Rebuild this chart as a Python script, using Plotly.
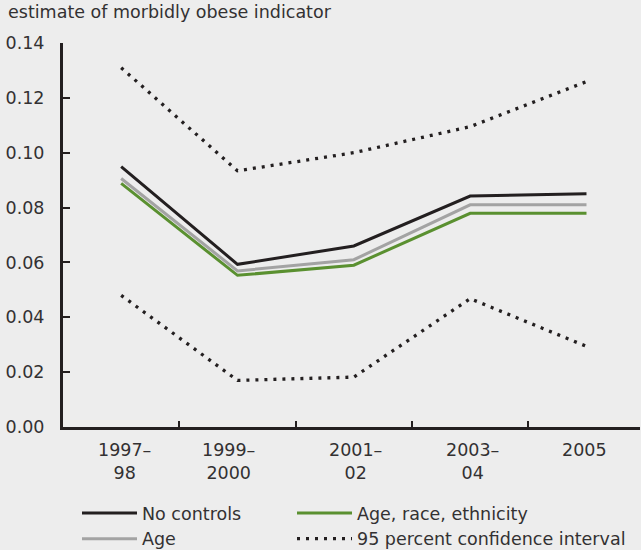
import plotly.graph_objects as go

categories = ["1997–<br>98", "1999–<br>2000", "2001–<br>02", "2003–<br>04", "2005"]
no_controls = [0.0949, 0.0593, 0.066, 0.0842, 0.085]
age = [0.0906, 0.0569, 0.061, 0.081, 0.081]
age_race_eth = [0.0888, 0.0553, 0.059, 0.0779, 0.0779]
ci_upper = [0.131, 0.0934, 0.100, 0.1095, 0.1259]
ci_lower = [0.048, 0.017, 0.0182, 0.0468, 0.0294]
y_ticks = [0.00, 0.02, 0.04, 0.06, 0.08, 0.10, 0.12, 0.14]

# label horizontal nudges in pixels (style only)
label_shift = [3, -9, 2, 2, -2]

BG = "#ededed"
FONT = "DejaVu Sans, Liberation Sans, Arial, sans-serif"
TXT = "#333132"
LINE = "#231f20"
FS = 17.5

x = list(range(len(categories)))
fig = go.Figure()
dot = "3px,6px"
fig.add_trace(go.Scatter(x=x, y=ci_upper, mode="lines", name="95 percent confidence interval",
                         line=dict(color=LINE, width=3.3, dash=dot), legend="legend2", legendrank=2))
fig.add_trace(go.Scatter(x=x, y=ci_lower, mode="lines", showlegend=False,
                         line=dict(color=LINE, width=3.3, dash=dot)))
fig.add_trace(go.Scatter(x=x, y=age_race_eth, mode="lines", name="Age, race, ethnicity",
                         line=dict(color="#5a9030", width=3), legend="legend2", legendrank=1))
fig.add_trace(go.Scatter(x=x, y=age, mode="lines", name="Age",
                         line=dict(color="#a3a3a3", width=3), legend="legend", legendrank=2))
fig.add_trace(go.Scatter(x=x, y=no_controls, mode="lines", name="No controls",
                         line=dict(color=LINE, width=3), legend="legend", legendrank=1))

for i, lab in enumerate(categories):
    fig.add_annotation(x=i, y=0, xref="x", yref="y", text=lab, showarrow=False,
                       yanchor="top", yshift=-11, xshift=label_shift[i],
                       font=dict(family=FONT, size=FS, color=TXT), align="center")

legend_common = dict(orientation="v", xanchor="left", yanchor="top",
                     xref="container", yref="container",
                     font=dict(family=FONT, size=FS, color=TXT),
                     bgcolor="rgba(0,0,0,0)", itemwidth=55, traceorder="normal")

fig.update_layout(
    width=641, height=550,
    paper_bgcolor=BG, plot_bgcolor=BG,
    margin=dict(l=63, r=1, t=43, b=123, autoexpand=False),
    font=dict(family=FONT, size=FS, color=TXT),
    title=dict(text="estimate of morbidly obese indicator", xref="container", yref="container",
               x=8 / 641, y=1 - 6 / 550, xanchor="left", yanchor="top",
               font=dict(family=FONT, size=FS, color=TXT)),
    showlegend=True,
    legend=dict(x=77 / 641, y=1 - 495 / 550, **legend_common),
    legend2=dict(x=292 / 641, y=1 - 495 / 550, **legend_common),
    xaxis=dict(range=[-0.5, 4.46], tickvals=[0.5, 1.5, 2.5, 3.5],
               ticktext=["", "", "", ""], ticks="inside", ticklen=6, tickwidth=2,
               tickcolor=LINE, showline=True, linecolor=LINE, linewidth=3,
               showgrid=False, zeroline=False),
    yaxis=dict(range=[0, 0.14], tickvals=y_ticks, tickformat=".2f",
               ticks="inside", ticklen=7, tickwidth=2, tickcolor=LINE,
               ticklabelstandoff=12,
               showline=True, linecolor=LINE, linewidth=3, showgrid=False,
               zeroline=False),
)

fig.write_html("out.html", config={"displayModeBar": False},
               post_script="document.body.style.margin='0';document.body.style.padding='0';"
                           "document.body.style.background='%s';" % BG)
